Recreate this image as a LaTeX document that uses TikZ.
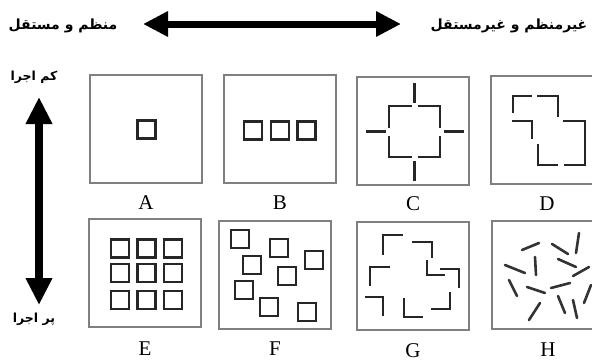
\documentclass[tikz,border=0pt]{standalone}
\usepackage{fontspec}
\setmainfont{Liberation Serif}
\newfontfamily\arabicfont[Script=Arabic]{DejaVu Sans}
\TeXXeTstate=1
\usetikzlibrary{arrows.meta,positioning}

\begin{document}
\begin{tikzpicture}[x=1pt,y=-1pt,
  panel/.style={draw=black!50,line width=1.8pt,minimum width=112pt,minimum height=108pt,inner sep=0pt},
  sq/.style={draw=black!85,line width=2.4pt,minimum size=18pt,inner sep=0pt},
  piece/.style={draw=black!85,line width=2.4pt},
  stick/.style={draw=black!80,line width=2.6pt,line cap=round},
  letter/.style={font=\fontsize{21}{21}\selectfont,inner sep=0pt},
  fa/.style={font=\arabicfont\bfseries\fontsize{14}{16}\selectfont,inner sep=0pt},
  side/.style={fa,font=\arabicfont\bfseries\fontsize{12.5}{14}\selectfont},
  wide/.style={line width=7pt,{Triangle[length=25pt,width=24pt]}-{Triangle[length=25pt,width=24pt]}},
  tall/.style={line width=8pt,{Triangle[length=27pt,width=25pt]}-{Triangle[length=27pt,width=25pt]}}]
\useasboundingbox (0,0) rectangle (592,362);

% headings and arrows
\node[fa] (reg) at (63,26) {\beginR منظم و مستقل\endR};
\node[fa] (irr) at (509,26) {\beginR غیرمنظم و غیرمستقل\endR};
\node[side] (few) at (34,77) {\beginR کم اجرا\endR};
\node[side] (many) at (34,319) {\beginR پر اجرا\endR};
\coordinate (hl) at (143,24);
\coordinate (hr) at (401,24);
\coordinate (vt) at (39,97);
\coordinate (vb) at (39,305);
\draw[wide] (hl) -- (hr);
\draw[tall] (vt) -- (vb);

% panels
\node[panel] (pA) at (146,129) {};
\node[panel] (pB) at (280,129) {};
\node[panel] (pC) at (413,131) {};
\node[panel] (pD) at (547,130) {};
\node[panel] (pE) at (145,273) {};
\node[panel] (pF) at (275,275) {};
\node[panel] (pG) at (413,276) {};
\node[panel] (pH) at (548,275) {};

\node[letter,below=12pt of pA] (lA) {A};
\node[letter,below=12pt of pB] (lB) {B};
\node[letter,below=10pt of pC] (lC) {C};
\node[letter,below=12pt of pD] (lD) {D};
\node[letter,below=14pt of pE] (lE) {E};
\node[letter,below=12pt of pF] (lF) {F};
\node[letter,below=12pt of pG] (lG) {G};
\node[letter,below=13pt of pH] (lH) {H};

% A and B
\node[sq] (a1) at (146.5,129.5) {};
\foreach \x [count=\i] in {253,280,306.5}
  \node[sq] (b\i) at (\x,130.5) {};

% C
\begin{scope}[shift={(414.5,131.5)}]
\foreach \sx/\sy in {1/1,1/-1,-1/1,-1/-1}
  \draw[piece] (\sx*3,\sy*25.5) -- (\sx*25.5,\sy*25.5) -- (\sx*25.5,\sy*4);
\foreach \a in {0,90,180,270}
  \draw[piece] (\a:29) -- (\a:49);
\end{scope}

% D
\draw[piece] (513,113) -- (513,96) -- (532,96);
\draw[piece] (537,96) -- (558,96) -- (558,117);
\draw[piece] (512,121) -- (532,121) -- (532,139);
\draw[piece] (563,121) -- (585,121) -- (585,165) -- (564,165);
\draw[piece] (538,144) -- (538,165) -- (558,165);

% E
\foreach \x [count=\i] in {120,146.5,173}
  \foreach \y [count=\j] in {248.5,273,300}
    \node[sq] (e\i\j) at (\x,\y) {};

% F
\foreach \x/\y [count=\i] in {240/239,279/248,252/265,314/260,287/276,244/290,269/307,307/312}
  \node[sq] (f\i) at (\x,\y) {};

% G
\draw[piece] (383,255) -- (383,235) -- (403,235);
\draw[piece] (412,242) -- (432,242) -- (432,258);
\draw[piece] (427,260) -- (427,275) -- (445,275);
\draw[piece] (440,269) -- (459,269) -- (459,288);
\draw[piece] (390,267) -- (370,267) -- (370,286);
\draw[piece] (365,297) -- (383,297) -- (383,316);
\draw[piece] (404,298) -- (404,317) -- (423,317);
\draw[piece] (450,292) -- (450,309) -- (431,309);

% H
\foreach \xa/\ya/\xb/\yb in {522/250/539/243, 552/244/568/254, 579/233/576/253,
    505/265/525/273, 535/257/536/275, 558/259/576/267, 573/276/589/267,
    509/280/517/296, 527/287/545/293, 551/288/570/283, 591/285/584/303,
    540/303/529/320, 558/296/565/313, 573/300/577/318}
  \draw[stick] (\xa,\ya) -- (\xb,\yb);
\end{tikzpicture}
\end{document}
